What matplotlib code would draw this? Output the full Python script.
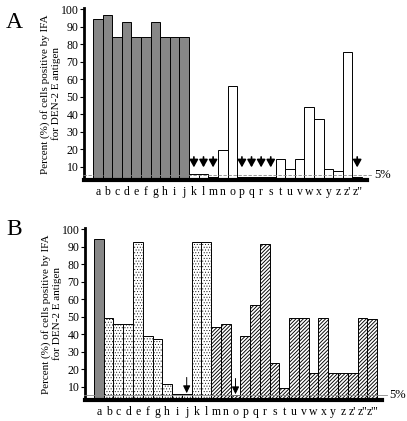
import numpy as np
import matplotlib
matplotlib.use("Agg")
import matplotlib.pyplot as plt

plt.rcParams['font.family'] = ['Liberation Serif', 'DejaVu Serif']
plt.rcParams['hatch.linewidth'] = 0.6

# panel A data
labels_a = list("abcdefghijklmnopqrstuvwxyz") + ["z'", 'z"']
values_a = [94.5, 96.4, 83.8, 92.6, 83.8, 83.8, 92.6, 83.8, 83.8, 83.8,
            5.7, 5.7, 3.8, 19.4, 56.2, 3.8, 3.8, 3.8, 3.8, 14.3,
            8.6, 14.3, 44.0, 37.2, 8.6, 7.4, 75.4, 3.8]
# fill style per bar: g = gray, w = white
style_a = ["g"] * 10 + ["w", "w", "g", "w", "w", "g", "g", "g", "g", "w",
                        "w", "w", "w", "w", "w", "w", "w", "g"]
arrows_a = ["k", "l", "m", "p", "q", "r", "s", 'z"']

# panel B data
labels_b = list("abcdefghijklmnopqrstuvwxyz") + ["z'", "z''", "z'''"]
values_b = [94.5, 49.0, 45.7, 45.7, 92.8, 38.9, 37.2, 11.4, 5.6, 5.6,
            92.8, 92.8, 44.0, 45.7, 5.0, 38.9, 56.6, 91.4, 23.4, 9.2,
            49.2, 49.2, 17.7, 49.2, 17.7, 17.7, 17.7, 49.2, 48.6]
# g = gray, d = dotted, h = hatched
style_b = ["g"] + ["d"] * 11 + ["h"] * 17
arrows_b = ["j", "o"]

yticks = [10, 20, 30, 40, 50, 60, 70, 80, 90, 100]
cutoff = 5

GRAY = "#878787"
W, H = 407, 421


def draw_panel(ax, labels, values, styles, arrows, thin_arrows, dashed):
    x = np.arange(len(values))
    for xi, v, s in zip(x, values, styles):
        if s == "g":
            ax.bar(xi, v, width=1, color=GRAY, edgecolor="black", linewidth=0.7)
        elif s == "w":
            ax.bar(xi, v, width=1, color="white", edgecolor="black", linewidth=0.7)
        elif s == "d":
            b = ax.bar(xi, v, width=1, color="white", edgecolor="black", linewidth=0.7,
                       hatch="......")
            for p in b:
                try:
                    p.set_hatch_linewidth(0.35)
                except AttributeError:
                    pass
        else:
            b = ax.bar(xi, v, width=1, color="white", edgecolor="black", linewidth=0.7,
                       hatch="/////////")
            for p in b:
                try:
                    p.set_hatch_linewidth(0.65)
                except AttributeError:
                    pass

    # 5% cutoff line, running a bit past the axis
    ax.plot([-1.5, len(values) + 0.5], [cutoff, cutoff], color="#888888",
            lw=0.6, ls=(0, (4, 2)) if dashed else "-", clip_on=False, zorder=3)
    ax.text(len(values) + 0.8, cutoff, "5%", fontsize=9, va="center", ha="left")

    # arrows on bars below the cutoff
    for lab in arrows:
        i = labels.index(lab)
        if thin_arrows:
            tip = values[i] + 0.6
            tail = tip + 9
            ax.annotate("", xy=(i, tip), xytext=(i, tail),
                        arrowprops=dict(arrowstyle="-|>,head_width=0.22,head_length=0.45",
                                        color="black", lw=0.7, shrinkA=0, shrinkB=0))
        else:
            tip = cutoff + 4.5
            tail = cutoff + 10.5
            ax.annotate("", xy=(i, tip), xytext=(i, tail),
                        arrowprops=dict(arrowstyle="-|>,head_width=0.25,head_length=0.45",
                                        color="black", lw=1.2, shrinkA=0, shrinkB=0))

    ax.set_ylim(2.3, 100.6)
    ax.set_yticks(yticks)
    ax.set_xticks(x)
    ax.set_xticklabels(labels)
    ax.tick_params(axis="x", length=0, labelsize=8.5, pad=4)
    ax.tick_params(axis="y", length=3, width=0.8, labelsize=8.5, pad=1, direction="out")
    for side in ["top", "right"]:
        ax.spines[side].set_visible(False)
    ax.spines["left"].set_linewidth(2)
    ax.spines["bottom"].set_linewidth(3)
    ax.set_ylabel("Percent (%) of cells positive by IFA\nfor DEN-2 E antigen",
                  fontsize=8, labelpad=0, linespacing=1.15)


fig = plt.figure(figsize=(W / 100, H / 100), dpi=100)

# panel A axes: pixel box x 84..367, y 8..180
ax_a = fig.add_axes([84 / W, 1 - 180 / H, (367 - 84) / W, (180 - 8) / H])
draw_panel(ax_a, labels_a, values_a, style_a, arrows_a, False, True)
ax_a.set_xlim(-1.44, 28.02)

# panel B axes: pixel box x 85..382, y 228..400
ax_b = fig.add_axes([85 / W, 1 - 400 / H, (382 - 85) / W, (400 - 228) / H])
draw_panel(ax_b, labels_b, values_b, style_b, arrows_b, True, False)
ax_b.set_xlim(-1.42, 29.01)

fig.text(14 / W, 1 - 22 / H, "A", fontsize=17, ha="center", va="center")
fig.text(14 / W, 1 - 229 / H, "B", fontsize=17, ha="center", va="center")

fig.savefig("out.png", dpi=100)
